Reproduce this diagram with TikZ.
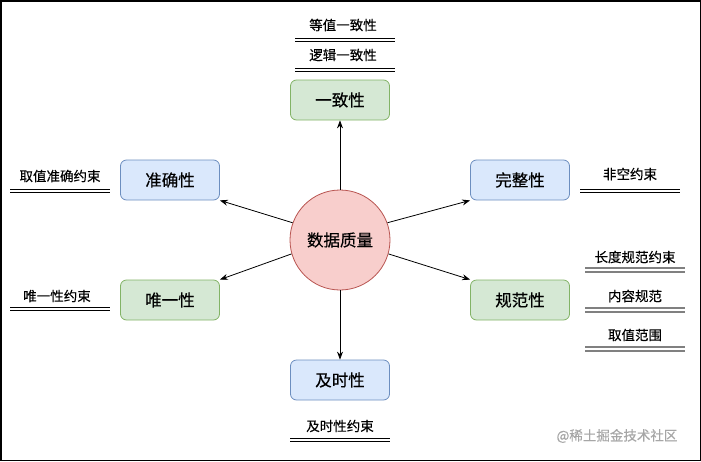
\documentclass[tikz,border=0pt]{standalone}
\usepackage{fontspec}
\setmainfont[FakeBold=0.35]{Noto Sans CJK SC}
\usetikzlibrary{arrows.meta}
\definecolor{bfill}{HTML}{DAE8FC}
\definecolor{bdraw}{HTML}{6C8EBF}
\definecolor{gfill}{HTML}{D5E8D4}
\definecolor{gdraw}{HTML}{82B366}
\definecolor{rfill}{HTML}{F8CECC}
\definecolor{rdraw}{HTML}{B85450}
\begin{document}
\begin{tikzpicture}[x=1pt,y=-1pt,
  box/.style={draw, rounded corners=6pt, minimum width=99pt, minimum height=40pt, inner sep=0pt, font=\fontsize{16.5}{18}\selectfont, line width=0.8pt},
  bluebox/.style={box, fill=bfill, draw=bdraw},
  greenbox/.style={box, fill=gfill, draw=gdraw},
  lbl/.style={font=\fontsize{13.5}{15}\selectfont, inner sep=0pt},
  arr/.style={-{Stealth[length=8pt,width=6pt]}, line width=0.8pt},
  dbl/.style={line width=0.8pt},
  gdbl/.style={line width=1.8pt, draw=black!50}]
\path[use as bounding box] (0,0) rectangle (701,461);
\draw[line width=1.5pt] (0.75,0.75) rectangle (700.25,460.25);

% center
\node[circle, draw=rdraw, fill=rfill, minimum size=100pt, line width=0.8pt, inner sep=0pt, font=\fontsize{16.5}{18}\selectfont] (c) at (340,240) {数据质量};

% boxes
\node[greenbox] (yz) at (340,100) {一致性};
\node[bluebox] (zq) at (170,180) {准确性};
\node[bluebox] (wz) at (520,180) {完整性};
\node[greenbox] (wy) at (170,300) {唯一性};
\node[greenbox] (gf) at (520,300) {规范性};
\node[bluebox] (js) at (340,380) {及时性};

% arrows
\draw[arr] (c.north) -- (yz.south);
\draw[arr] (c.south) -- (js.north);
\draw[arr] (c.160) -- (zq.south east);
\draw[arr] (c.196) -- (wy.north east);
\draw[arr] (c.20) -- (wz.south west);
\draw[arr] (c.-16) -- (gf.north west);

% labels
\node[lbl] (l1) at (343,25) {等值一致性};
\draw[dbl] (295,38) -- (395,38) (295,41.5) -- (395,41.5);
\node[lbl] (l2) at (343,55) {逻辑一致性};
\draw[dbl] (295,68) -- (395,68) (295,71.5) -- (395,71.5);

\node[lbl] (l3) at (60,176) {取值准确约束};
\draw[dbl] (10,189) -- (110,189) (10,192.5) -- (110,192.5);

\node[lbl] (l4) at (57,296) {唯一性约束};
\draw[dbl] (10,307) -- (110,307) (10,310.5) -- (110,310.5);

\node[lbl] (l5) at (630,174) {非空约束};
\draw[dbl] (580,189) -- (680,189) (580,192.5) -- (680,192.5);

\node[lbl] (l6) at (635,257) {长度规范约束};
\draw[gdbl] (585,268) -- (685,268) (585,272) -- (685,272);
\node[lbl] (l7) at (635,296) {内容规范};
\draw[gdbl] (585,308) -- (685,308) (585,312) -- (685,312);
\node[lbl] (l8) at (635,335) {取值范围};
\draw[gdbl] (585,347) -- (685,347) (585,351) -- (685,351);

\node[lbl] (l9) at (340,426) {及时性约束};
\draw[dbl] (290,438) -- (390,438) (290,441.5) -- (390,441.5);

% watermark
\node[font=\fontsize{13.5}{15}\selectfont, text=black!35, inner sep=0pt] (wm) at (617,436) {@稀土掘金技术社区};
\end{tikzpicture}
\end{document}
